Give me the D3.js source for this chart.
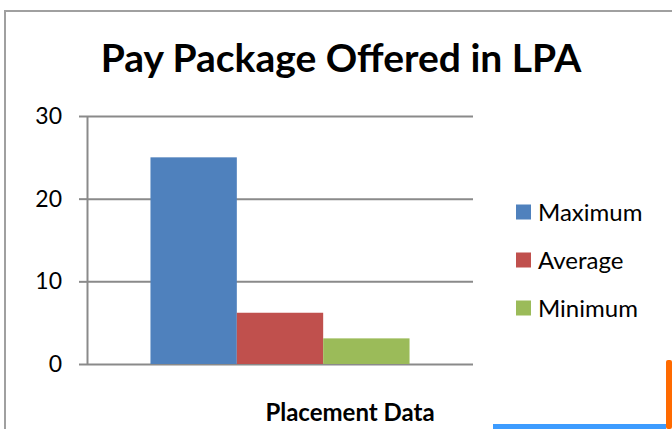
<!doctype HTML>
<html>
<head>
    <script src="https://d3js.org/d3.v7.min.js"></script>
    <style>
        body { margin: 0; background: #fff; }
        text { font-family: Lato, "Open Sans", sans-serif; fill: #000; }
    </style>
</head>
<body>
<script>

    // chart data
    var categories = ["Placement Data"];
    var series = ["Maximum", "Average", "Minimum"];
    var values = [25, 6.2, 3.1];
    var colors = ["#4f81bd", "#c0504d", "#9bbb59"];
    var yTicks = [0, 10, 20, 30];

    var W = 672, H = 429;
    var plot = {left: 87, right: 473, top: 116, bottom: 364};

    var svg = d3.select("body")
        .append("svg")
        .attr("width", W)
        .attr("height", H);

    // outer chart border (runs off the right / bottom edge)
    svg.append("rect")
        .attr("x", 5)
        .attr("y", 11)
        .attr("width", 700)
        .attr("height", 440)
        .attr("fill", "#fff")
        .attr("stroke", "#a0a0a0")
        .attr("stroke-width", 2);

    // title
    svg.append("text")
        .attr("x", 341)
        .attr("y", 72)
        .attr("text-anchor", "middle")
        .attr("font-size", "39px")
        .attr("font-weight", "bold")
        .text("Pay Package Offered in LPA");

    var yScale = d3.scaleLinear()
        .domain([0, 30])
        .range([plot.bottom, plot.top]);

    var xScale = d3.scaleBand()
        .domain(categories)
        .range([plot.left, plot.right])
        .paddingOuter(0.245)
        .paddingInner(0);

    var xSub = d3.scaleBand()
        .domain(series)
        .range([0, xScale.bandwidth()]);

    //gridlines
    svg.append("g")
        .attr("transform", "translate(" + plot.left + ",0)")
        .call(d3.axisLeft(yScale).tickValues(yTicks).tickSize(-(plot.right - plot.left)).tickFormat(""))
        .call(g => g.select(".domain").remove())
        .selectAll("line")
        .attr("stroke", "#8a8a8a")
        .attr("stroke-width", 2);

    //y axis with tick marks
    var yAxis = svg.append("g")
        .attr("transform", "translate(" + plot.left + ",0)")
        .call(d3.axisLeft(yScale).tickValues(yTicks).tickSize(8).tickSizeOuter(0).tickPadding(17));
    yAxis.select(".domain").attr("stroke", "#8a8a8a").attr("stroke-width", 2);
    yAxis.selectAll("line").attr("stroke", "#8a8a8a").attr("stroke-width", 2);
    yAxis.selectAll("text")
        .attr("font-size", "23px")
        .attr("font-family", "Lato, sans-serif")
        .attr("fill", "#000");

    //bars
    svg.append("g")
        .selectAll("rect")
        .data(series)
        .enter().append("rect")
        .attr("x", (d, i) => xScale(categories[0]) + xSub(d))
        .attr("y", (d, i) => yScale(values[i]))
        .attr("width", xSub.bandwidth())
        .attr("height", (d, i) => yScale(0) - yScale(values[i]))
        .attr("fill", (d, i) => colors[i]);

    // x axis title
    svg.append("text")
        .attr("x", 350)
        .attr("y", 421)
        .attr("text-anchor", "middle")
        .attr("font-size", "24px")
        .attr("font-weight", "bold")
        .text(categories[0]);

    // legend
    var legend = svg.append("g")
        .selectAll("g")
        .data(series)
        .enter().append("g")
        .attr("transform", (d, i) => "translate(516," + (212 + i * 48) + ")");
    legend.append("rect")
        .attr("x", 0)
        .attr("y", -7.5)
        .attr("width", 15)
        .attr("height", 15)
        .attr("fill", (d, i) => colors[i]);
    legend.append("text")
        .attr("x", 22)
        .attr("y", 0)
        .attr("dy", "0.36em")
        .attr("font-size", "24px")
        .text(d => d);

    // bits of other windows peeking in at the bottom right corner
    svg.append("rect")
        .attr("x", 493).attr("y", 424)
        .attr("width", 173).attr("height", 5)
        .attr("fill", "#3d9cff");
    svg.append("rect")
        .attr("x", 666).attr("y", 360)
        .attr("width", 6).attr("height", 69)
        .attr("rx", 2)
        .attr("fill", "#ff6a00");

</script>
</body>
</html>
